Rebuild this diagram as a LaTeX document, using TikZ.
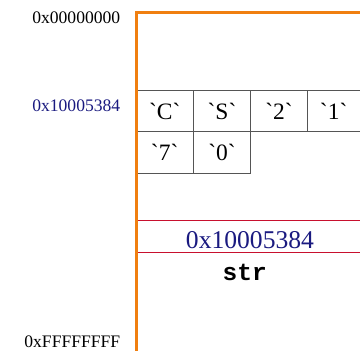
\documentclass[tikz,border=0pt]{standalone}
\usepackage{fontspec}
\newfontfamily\serf{Liberation Serif}
\newfontfamily\monof{Liberation Mono}
\definecolor{orangeline}{HTML}{F07F10}
\definecolor{navy}{HTML}{1A1A80}
\definecolor{boxred}{HTML}{C8102E}
\definecolor{gridgray}{HTML}{555555}
\begin{document}
\begin{tikzpicture}[x=1pt,y=-1pt,
  addr/.style={anchor=east,inner sep=0pt,font=\serf\fontsize{17.6}{18}\selectfont},
  celltxt/.style={inner sep=0pt,font=\serf\fontsize{23.5}{24}\selectfont},
  gridline/.style={draw=gridgray,line width=1pt}]
\useasboundingbox (0,0) rectangle (360,351);
% grid
\draw[gridline] (360,90) -- (136,90) -- (136,173) -- (250.7,173) -- (250.7,90);
\draw[gridline] (136,131.7) -- (360,131.7);
\draw[gridline] (193.3,90) -- (193.3,173);
\draw[gridline] (307.3,90) -- (307.3,131.7);
% cells
\node[celltxt] (c1) at (164.7,111) {\symbol{96}C\symbol{96}};
\node[celltxt] (c2) at (222,111) {\symbol{96}S\symbol{96}};
\node[celltxt] (c3) at (279,111) {\symbol{96}2\symbol{96}};
\node[celltxt] (c4) at (333.7,111) {\symbol{96}1\symbol{96}};
\node[celltxt] (c5) at (164.7,152.3) {\symbol{96}7\symbol{96}};
\node[celltxt] (c6) at (222,152.3) {\symbol{96}0\symbol{96}};
% red box
\draw[draw=boxred,line width=1pt] (360,220.7) -- (136,220.7) -- (136,252) -- (360,252);
\node[inner sep=0pt,text=navy,font=\serf\fontsize{25.6}{26}\selectfont] (ptr) at (250,240) {0x10005384};
\node[inner sep=0pt,font=\monof\bfseries\fontsize{24.5}{25}\selectfont] (str) at (244.7,272) {str};
% orange axis
\draw[orangeline,line width=2.6pt] (136.5,351) -- (136.5,12.7) -- (360,12.7);
% address labels
\node[addr] (a0) at (120.5,18) {0x00000000};
\node[addr,text=navy] (a1) at (120.5,105.5) {0x10005384};
\node[addr] (a2) at (120.5,342) {0xFFFFFFFF};
\end{tikzpicture}
\end{document}
